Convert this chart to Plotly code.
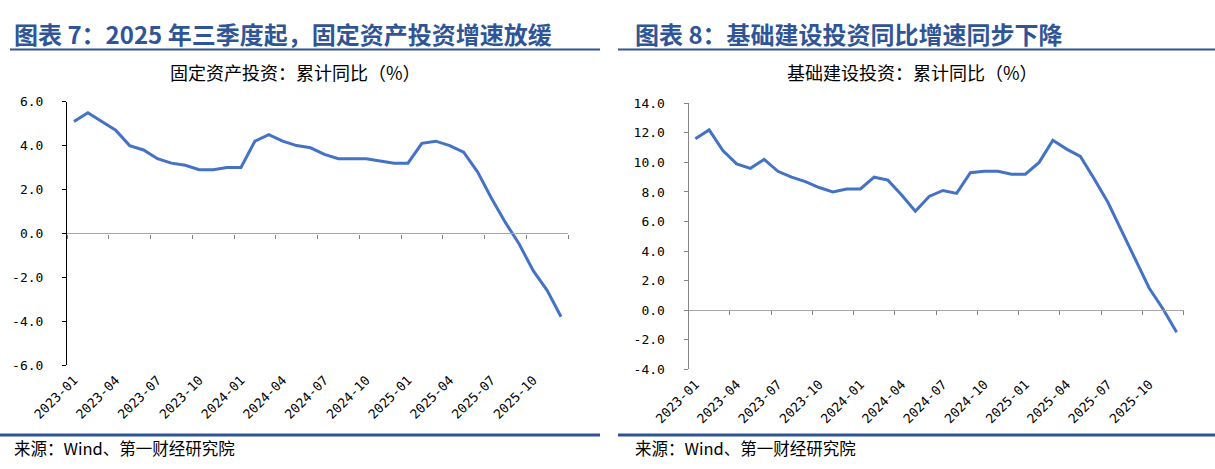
import plotly.graph_objects as go

# ---------------- data ----------------
months = [f"{y}-{m:02d}" for y in (2023, 2024, 2025) for m in range(1, 13)]
fixed_inv = [5.1, 5.5, 5.1, 4.7, 4.0, 3.8, 3.4, 3.2, 3.1, 2.9,
             2.9, 3.0, 3.0, 4.2, 4.5, 4.2, 4.0, 3.9, 3.6, 3.4,
             3.4, 3.4, 3.3, 3.2, 3.2, 4.1, 4.2, 4.0, 3.7, 2.8,
             1.6, 0.5, -0.5, -1.7, -2.6, -3.8]
infra_inv = [11.6, 12.2, 10.8, 9.9, 9.6, 10.2, 9.4, 9.0, 8.7, 8.3,
             8.0, 8.2, 8.2, 9.0, 8.8, 7.8, 6.7, 7.7, 8.1, 7.9,
             9.3, 9.4, 9.4, 9.2, 9.2, 10.0, 11.5, 10.9, 10.4, 8.9,
             7.3, 5.4, 3.4, 1.5, 0.1, -1.5]
left_yticks = [-6, -4, -2, 0, 2, 4, 6]
right_yticks = [-4, -2, 0, 2, 4, 6, 8, 10, 12, 14]
xtick_labels = months[::3]

titles = ["图表 7：2025 年三季度起，固定资产投资增速放缓", "图表 8：基础建设投资同比增速同步下降"]
subtitles = ["固定资产投资：累计同比（%）", "基础建设投资：累计同比（%）"]
source = "来源：Wind、第一财经研究院"

# ---------------- layout helpers ----------------
W, H = 1215, 469
BLUE = "#2F5597"
LINE = "#4472C4"
CJK = "Noto Sans CJK SC"
NUM = "DejaVu Sans Mono"


def px_x(x):
    return x / W


def px_y(y):
    return 1 - y / H


panels = [
    dict(data=fixed_inv, yticks=left_yticks, x0=67, x1=568, ytop=101.7, ybot=365,
         axcolor="#000000", xa="x", ya="y", xz="x2", cx=295, tx=12, hx0=10, hx1=600, fx0=0, fx1=600),
    dict(data=infra_inv, yticks=right_yticks, x0=688.5, x1=1183.5, ytop=103.3, ybot=369.3,
         axcolor="#868686", xa="x3", ya="y3", xz="x4", cx=912, tx=633, hx0=618, hx1=1215, fx0=618, fx1=1215),
]

fig = go.Figure()
shapes = []
annotations = []
layout = {}
n = len(months)

for i, p in enumerate(panels):
    xa_name = "xaxis" if p["xa"] == "x" else "xaxis" + p["xa"][1:]
    ya_name = "yaxis" if p["ya"] == "y" else "yaxis" + p["ya"][1:]
    xz_name = "xaxis" + p["xz"][1:]
    ymin, ymax = p["yticks"][0], p["yticks"][-1]
    dom_x = [px_x(p["x0"]), px_x(p["x1"])]
    dom_y = [px_y(p["ybot"]), px_y(p["ytop"])]

    fig.add_trace(go.Scatter(x=months, y=p["data"], mode="lines",
                             line=dict(color=LINE, width=3), xaxis=p["xa"], yaxis=p["ya"],
                             showlegend=False, hoverinfo="x+y"))
    # empty trace so that the zero-line axis gets drawn
    fig.add_trace(go.Scatter(x=[], y=[], xaxis=p["xz"], yaxis=p["ya"], showlegend=False,
                             hoverinfo="skip"))

    layout[xa_name] = dict(domain=dom_x, anchor=p["ya"], type="category",
                           range=[-0.5, n - 0.5], tickmode="array",
                           tickvals=xtick_labels, ticktext=xtick_labels,
                           tickangle=-45, ticks="", showline=False, showgrid=False,
                           zeroline=False, ticklabelstandoff=4,
                           tickfont=dict(family=NUM, size=13, color="#000"))
    layout[ya_name] = dict(domain=dom_y, anchor=p["xa"], range=[ymin, ymax],
                           tickmode="array", tickvals=p["yticks"],
                           ticktext=[f"{v:.1f}" for v in p["yticks"]],
                           ticks="outside", ticklen=4, tickcolor=p["axcolor"], tickwidth=1,
                           showline=True, linecolor=p["axcolor"], linewidth=1,
                           showgrid=False, zeroline=False, ticklabelstandoff=16,
                           tickfont=dict(family=NUM, size=13, color="#000"))
    # axis line sitting on zero with boundary ticks
    zero_pos = dom_y[0] + (0 - ymin) / (ymax - ymin) * (dom_y[1] - dom_y[0])
    layout[xz_name] = dict(domain=dom_x, overlaying=p["xa"], anchor="free", position=zero_pos,
                           side="bottom", range=[-0.5, n - 0.5], tickmode="array",
                           tickvals=[k - 0.5 for k in range(0, n + 1, 3)],
                           showticklabels=False, ticks="outside", ticklen=4,
                           tickcolor="#808080", tickwidth=1, showline=True,
                           linecolor="#A6A6A6", linewidth=1.3, showgrid=False, zeroline=False)

    # header title
    annotations.append(dict(text=f"<b>{titles[i]}</b>", xref="paper", yref="paper",
                            x=px_x(p["tx"]), y=px_y(33), xanchor="left", yanchor="middle",
                            showarrow=False, font=dict(family=CJK, size=24, color=BLUE)))
    annotations.append(dict(text=subtitles[i], xref="paper", yref="paper",
                            x=px_x(p["cx"]), y=px_y(72), xanchor="center", yanchor="middle",
                            showarrow=False, font=dict(family=CJK, size=18, color="#000")))
    annotations.append(dict(text=source, xref="paper", yref="paper",
                            x=px_x(p["tx"]), y=px_y(448), xanchor="left", yanchor="middle",
                            showarrow=False, font=dict(family=CJK, size=16.5, color="#000")))
    shapes.append(dict(type="line", xref="paper", yref="paper",
                       x0=px_x(p["hx0"]), x1=px_x(p["hx1"]), y0=px_y(49.5), y1=px_y(49.5),
                       line=dict(color=BLUE, width=2.2)))
    shapes.append(dict(type="line", xref="paper", yref="paper",
                       x0=px_x(p["fx0"]), x1=px_x(p["fx1"]), y0=px_y(435), y1=px_y(435),
                       line=dict(color=BLUE, width=3)))

fig.update_layout(width=W, height=H,
                  margin=dict(l=0, r=0, t=0, b=0, autoexpand=False),
                  paper_bgcolor="white", plot_bgcolor="white",
                  shapes=shapes, annotations=annotations, showlegend=False, **layout)

fig.write_html("out.html", config={"displayModeBar": False},
               post_script="document.body.style.margin='0px';document.body.style.overflow='hidden';")
